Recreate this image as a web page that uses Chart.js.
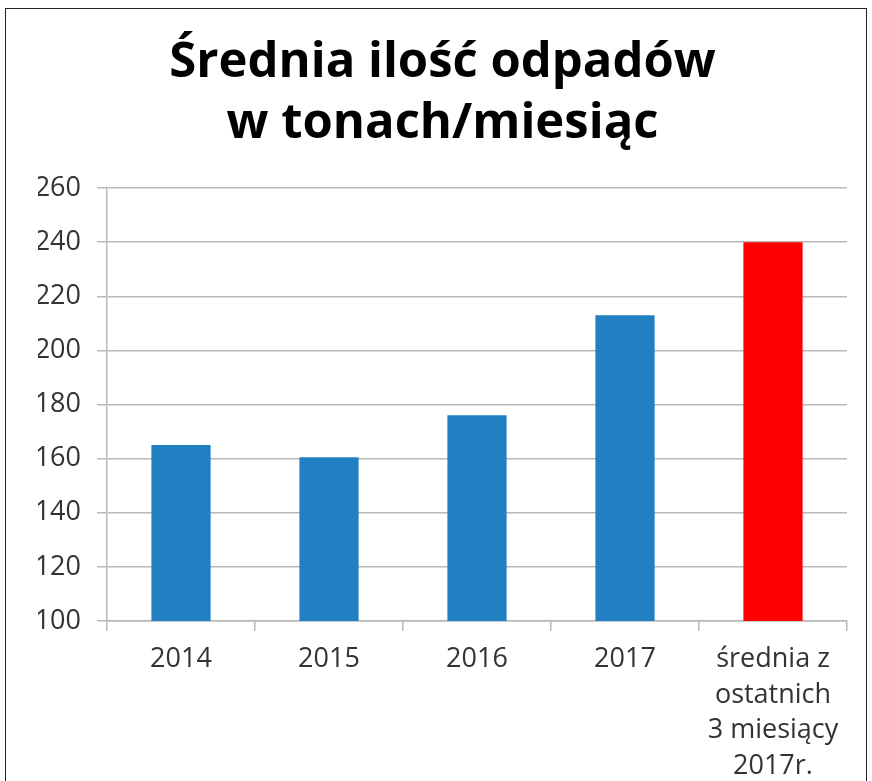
<!DOCTYPE html>
<html>
<head>
<meta charset="utf-8">
<script src="https://cdn.jsdelivr.net/npm/chart.js@4"></script>
<style>
  html, body { margin: 0; padding: 0; background: #fff; }
  #wrap { position: relative; width: 872px; height: 781px; overflow: hidden; }
  #frame { position: absolute; left: 5px; top: 8px; width: 862px; height: 800px; border: 1px solid #222; box-sizing: border-box; pointer-events: none; }
  canvas { position: absolute; left: 0; top: 0; }
</style>
</head>
<body>
<div id="wrap">
  <canvas id="c" width="872" height="781"></canvas>
  <div id="frame"></div>
</div>
<script>
const titleLines = ["Średnia ilość odpadów", "w tonach/miesiąc"];
const categories = ["2014", "2015", "2016", "2017", ["średnia z", "ostatnich", "3 miesiący", "2017r."]];
const values = [165, 160.5, 176, 213, 240];
const barColors = ["#2180c1", "#2180c1", "#2180c1", "#2180c1", "#ff0000"];
const yMin = 100, yMax = 260, yStep = 20;

new Chart(document.getElementById('c'), {
  type: 'bar',
  data: {
    labels: categories,
    datasets: [{
      data: values,
      backgroundColor: barColors,
      borderWidth: 0,
      barPercentage: 0.4,
      categoryPercentage: 1.0
    }]
  },
  options: {
    responsive: false,
    animation: false,
    devicePixelRatio: 1,
    layout: { padding: { left: 38, right: 25, top: 0, bottom: 0 } },
    plugins: {
      legend: { display: false },
      tooltip: { enabled: false },
      title: {
        display: true,
        text: titleLines,
        color: '#000',
        font: { family: 'Open Sans', size: 49, weight: 'bold', lineHeight: 1.245 },
        padding: { top: 33, bottom: 33 }
      }
    },
    scales: {
      y: {
        min: yMin, max: yMax,
        ticks: { stepSize: yStep, color: '#333', font: { family: 'Open Sans', size: 27 }, padding: 16 },
        grid: { color: '#b8b8b8', lineWidth: 1.5, tickLength: 10 },
        border: { color: '#b8b8b8', width: 1.5 },
        afterFit: (s) => { s.width = 69; }
      },
      x: {
        ticks: { color: '#333', font: { family: 'Open Sans', size: 27, lineHeight: 1.33 }, padding: 10, maxRotation: 0, autoSkip: false },
        grid: { drawOnChartArea: false, color: '#b8b8b8', lineWidth: 1.5, tickLength: 10, offset: true },
        border: { color: '#b8b8b8', width: 1.5 },
        afterFit: (s) => { s.height = 160; }
      }
    }
  }
});
</script>
</body>
</html>
